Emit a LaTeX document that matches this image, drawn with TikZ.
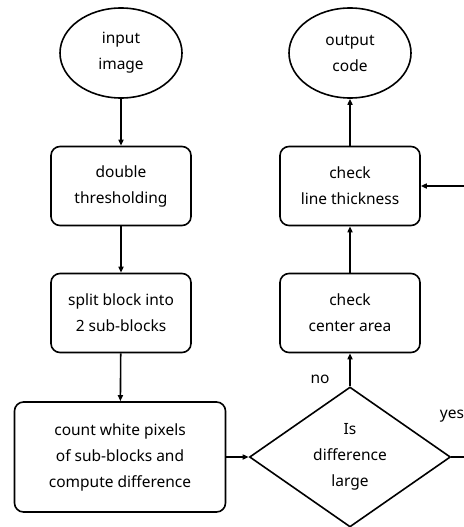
\documentclass[tikz,border=0pt]{standalone}
\usepackage{fontspec}
\setmainfont{Noto Sans}
\usetikzlibrary{shapes.geometric,arrows.meta}
\begin{document}
\begin{tikzpicture}[x=1pt,y=-1pt,
  every node/.style={font=\fontsize{15.5}{26}\selectfont, align=center, inner sep=0pt},
  term/.style={draw, ellipse, line width=1.6pt, minimum width=122pt, minimum height=90pt},
  proc/.style={draw, rounded corners=9pt, line width=1.6pt, minimum width=140pt, minimum height=79pt},
  dec/.style={draw, diamond, line width=1.6pt, minimum width=201pt, minimum height=140pt, aspect=1.44},
  conn/.style={line width=1.6pt, -{Triangle[length=6pt,width=5pt]}},
  lbl/.style={font=\fontsize{15.5}{18}\selectfont}
]
\useasboundingbox (0,0) rectangle (463,527);
\node[term] (in) at (121,53) {input\\image};
\node[term] (out) at (350,53) {output\\code};
\node[proc] (dt) at (121,186) {double\\thresholding};
\node[proc] (lt) at (350,186) {check\\line thickness};
\node[proc] (sp) at (121,313) {split block into\\2 sub-blocks};
\node[proc] (ca) at (350,313) {check\\center area};
\node[proc, minimum width=211pt, minimum height=110pt] (cw) at (120,457) {count white pixels\\of sub-blocks and\\compute difference};
\node[dec] (d) at (350,457) {Is\\difference\\large};
\coordinate (r) at (475,457);
\coordinate (rt) at (475,186);
\node[lbl] (no) at (320,379) {no};
\node[lbl] (yes) at (452,416) {yes};
\draw[conn] (in) -- (dt);
\draw[conn] (dt) -- (sp);
\draw[conn] (sp) -- (cw);
\draw[conn] (cw) -- (d);
\draw[conn] (d) -- (ca);
\draw[conn] (ca) -- (lt);
\draw[conn] (lt) -- (out);
\draw[conn] (d.east) -- (r) -- (rt) -- (lt.east);
\end{tikzpicture}
\end{document}
